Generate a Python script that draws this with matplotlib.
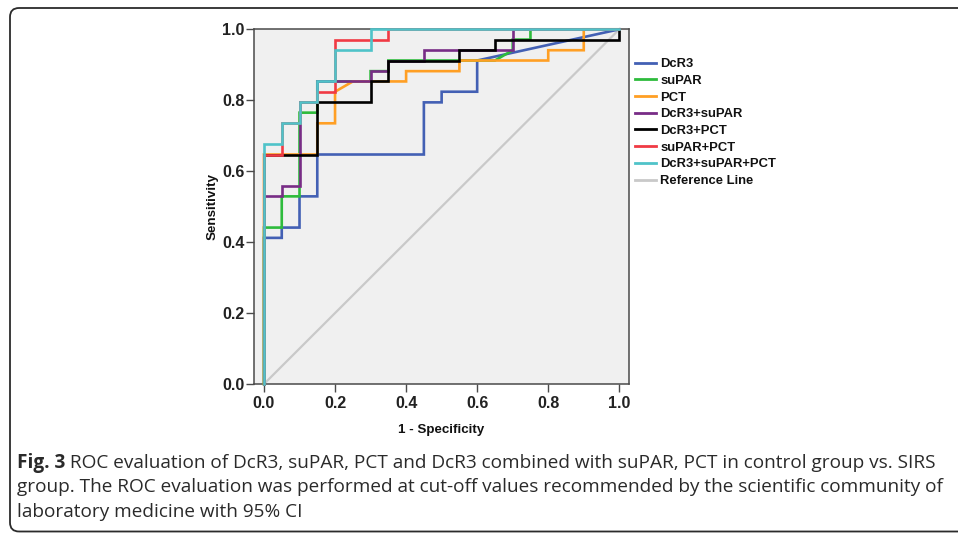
import matplotlib
matplotlib.use("Agg")
import matplotlib.pyplot as plt
from matplotlib.patches import FancyBboxPatch
from matplotlib.font_manager import FontProperties

# ---- data (1 - specificity, sensitivity) step vertices ----
series_names = ["DcR3", "suPAR", "PCT", "DcR3+suPAR", "DcR3+PCT",
                "suPAR+PCT", "DcR3+suPAR+PCT"]
series_colors = ["#4360b4", "#2ebb3c", "#ff9f24", "#782c86", "#000000",
                 "#f03a44", "#4fc3c9"]

dcr3_fpr = [0, 0, .05, .05, .10, .10, .15, .15, .45, .45, .50, .50, .60, .60, 1.0]
dcr3_tpr = [0, .412, .412, .441, .441, .529, .529, .647, .647, .794, .794, .824, .824, .912, 1.0]

supar_fpr = [0, 0, .05, .05, .10, .10, .15, .15, .30, .30, .35, .35, .65, .70, .70, .75, .75, 1.0]
supar_tpr = [0, .441, .441, .529, .529, .765, .765, .853, .853, .882, .882, .912, .912, .941, .971, .971, 1.0, 1.0]

pct_fpr = [0, 0, .15, .15, .20, .20, .25, .40, .40, .55, .55, .80, .80, .90, .90, 1.0]
pct_tpr = [0, .647, .647, .735, .735, .824, .853, .853, .882, .882, .912, .912, .941, .941, 1.0, 1.0]

dcr3_supar_fpr = [0, 0, .05, .05, .10, .10, .15, .15, .30, .30, .35, .35, .45, .45, .70, .70, 1.0]
dcr3_supar_tpr = [0, .529, .529, .559, .559, .794, .794, .853, .853, .882, .882, .912, .912, .941, .941, 1.0, 1.0]

dcr3_pct_fpr = [0, 0, .15, .15, .30, .30, .35, .35, .55, .55, .65, .65, 1.0, 1.0]
dcr3_pct_tpr = [0, .647, .647, .794, .794, .853, .853, .912, .912, .941, .941, .971, .971, 1.0]

supar_pct_fpr = [0, 0, .05, .05, .10, .10, .15, .15, .20, .20, .35, .35, 1.0]
supar_pct_tpr = [0, .647, .647, .735, .735, .794, .794, .824, .824, .971, .971, 1.0, 1.0]

all3_fpr = [0, 0, .05, .05, .10, .10, .15, .15, .20, .20, .30, .30, 1.0]
all3_tpr = [0, .676, .676, .735, .735, .794, .794, .853, .853, .941, .941, 1.0, 1.0]

ref_x = [0, 1]
ref_y = [0, 1]

x_ticks = [0.0, 0.2, 0.4, 0.6, 0.8, 1.0]
x_ticklabels = ["0.0", "0.2", "0.4", "0.6", "0.8", "1.0"]
y_ticks = [0.0, 0.2, 0.4, 0.6, 0.8, 1.0]
y_ticklabels = ["0.0", "0.2", "0.4", "0.6", "0.8", "1.0"]

caption_bold = "Fig. 3"
caption_line1 = " ROC evaluation of DcR3, suPAR, PCT and DcR3 combined with suPAR, PCT in control group vs. SIRS"
caption_line2 = "group. The ROC evaluation was performed at cut-off values recommended by the scientific community of"
caption_line3 = "laboratory medicine with 95% CI"

series_x = [dcr3_fpr, supar_fpr, pct_fpr, dcr3_supar_fpr, dcr3_pct_fpr, supar_pct_fpr, all3_fpr]
series_y = [dcr3_tpr, supar_tpr, pct_tpr, dcr3_supar_tpr, dcr3_pct_tpr, supar_pct_tpr, all3_tpr]

# ---- figure ----
W, H = 958, 533
fig = plt.figure(figsize=(W / 100, H / 100), dpi=100)
fig.patch.set_facecolor("white")

# card border
card = FancyBboxPatch((10 / 100, 1.5 / 100), (W + 20 - 10) / 100, (H - 8 - 1.5) / 100,
                      boxstyle="round,pad=0,rounding_size=0.09",
                      transform=fig.dpi_scale_trans, facecolor="none",
                      edgecolor="#2b2b2b", linewidth=1.3, clip_on=False)
fig.add_artist(card)

ax_l, ax_r, ax_t, ax_b = 254, 628.7, 29.3, 384
ax = fig.add_axes([ax_l / W, 1 - ax_b / H, (ax_r - ax_l) / W, (ax_b - ax_t) / H])
ax.set_facecolor("#f0f0f0")
ax.set_xlim(-0.0281, 1.0265)
ax.set_ylim(0, 1)

lines = []
for xs, ys, name, col in zip(series_x, series_y, series_names, series_colors):
    ln, = ax.plot(xs, ys, color=col, lw=1.9, label=name, clip_on=False,
                  solid_joinstyle="miter", zorder=3)
    lines.append(ln)
ref, = ax.plot(ref_x, ref_y, color="#c9c9c9", lw=1.6, label="Reference Line", zorder=2)
lines.append(ref)

for sp in ax.spines.values():
    sp.set_color("#4a4a4a")
    sp.set_linewidth(1.1)

tick_font = FontProperties(family="Liberation Sans", weight="bold", size=11.5)
ax.set_xticks(x_ticks)
ax.set_xticklabels(x_ticklabels, fontproperties=tick_font)
ax.set_yticks(y_ticks)
ax.set_yticklabels(y_ticklabels, fontproperties=tick_font)
ax.tick_params(axis="both", direction="out", length=6, width=1.0, color="#4a4a4a",
               labelcolor="#222222")
ax.tick_params(axis="x", pad=3)
ax.tick_params(axis="y", pad=1)

lab_font = FontProperties(family="Liberation Sans", weight="bold", size=9.6)
ax.set_xlabel("1 - Specificity", fontproperties=lab_font, labelpad=9, color="#111111")
ax.set_ylabel("Sensitivity", fontproperties=lab_font, labelpad=2.5, color="#111111")

leg_font = FontProperties(family="Liberation Sans", weight="bold", size=9.4)
leg = ax.legend(handles=lines, loc="upper left", bbox_to_anchor=(635 / W, 1 - 58 / H),
                bbox_transform=fig.transFigure, frameon=False, prop=leg_font,
                handlelength=1.6, handletextpad=0.35, labelspacing=0.35,
                borderpad=0, borderaxespad=0)
for t in leg.get_texts():
    t.set_color("#111111")
for h in leg.legend_handles:
    h.set_linewidth(2.0)

# caption
cap_size = 13.7
cap_col = "#2a2a2a"
t1 = fig.text(17 / W, 1 - 468 / H, caption_bold, family="Open Sans", weight="bold",
              size=cap_size, va="baseline", ha="left", color=cap_col)
fig.canvas.draw()
bb = t1.get_window_extent()
fig.text(bb.x1 / W, 1 - 468 / H, caption_line1, family="Open Sans", size=cap_size,
         va="baseline", ha="left", color=cap_col)
fig.text(17 / W, 1 - 492.5 / H, caption_line2, family="Open Sans", size=cap_size,
         va="baseline", ha="left", color=cap_col)
fig.text(17 / W, 1 - 517 / H, caption_line3, family="Open Sans", size=cap_size,
         va="baseline", ha="left", color=cap_col)

fig.savefig("out.png", dpi=100)
